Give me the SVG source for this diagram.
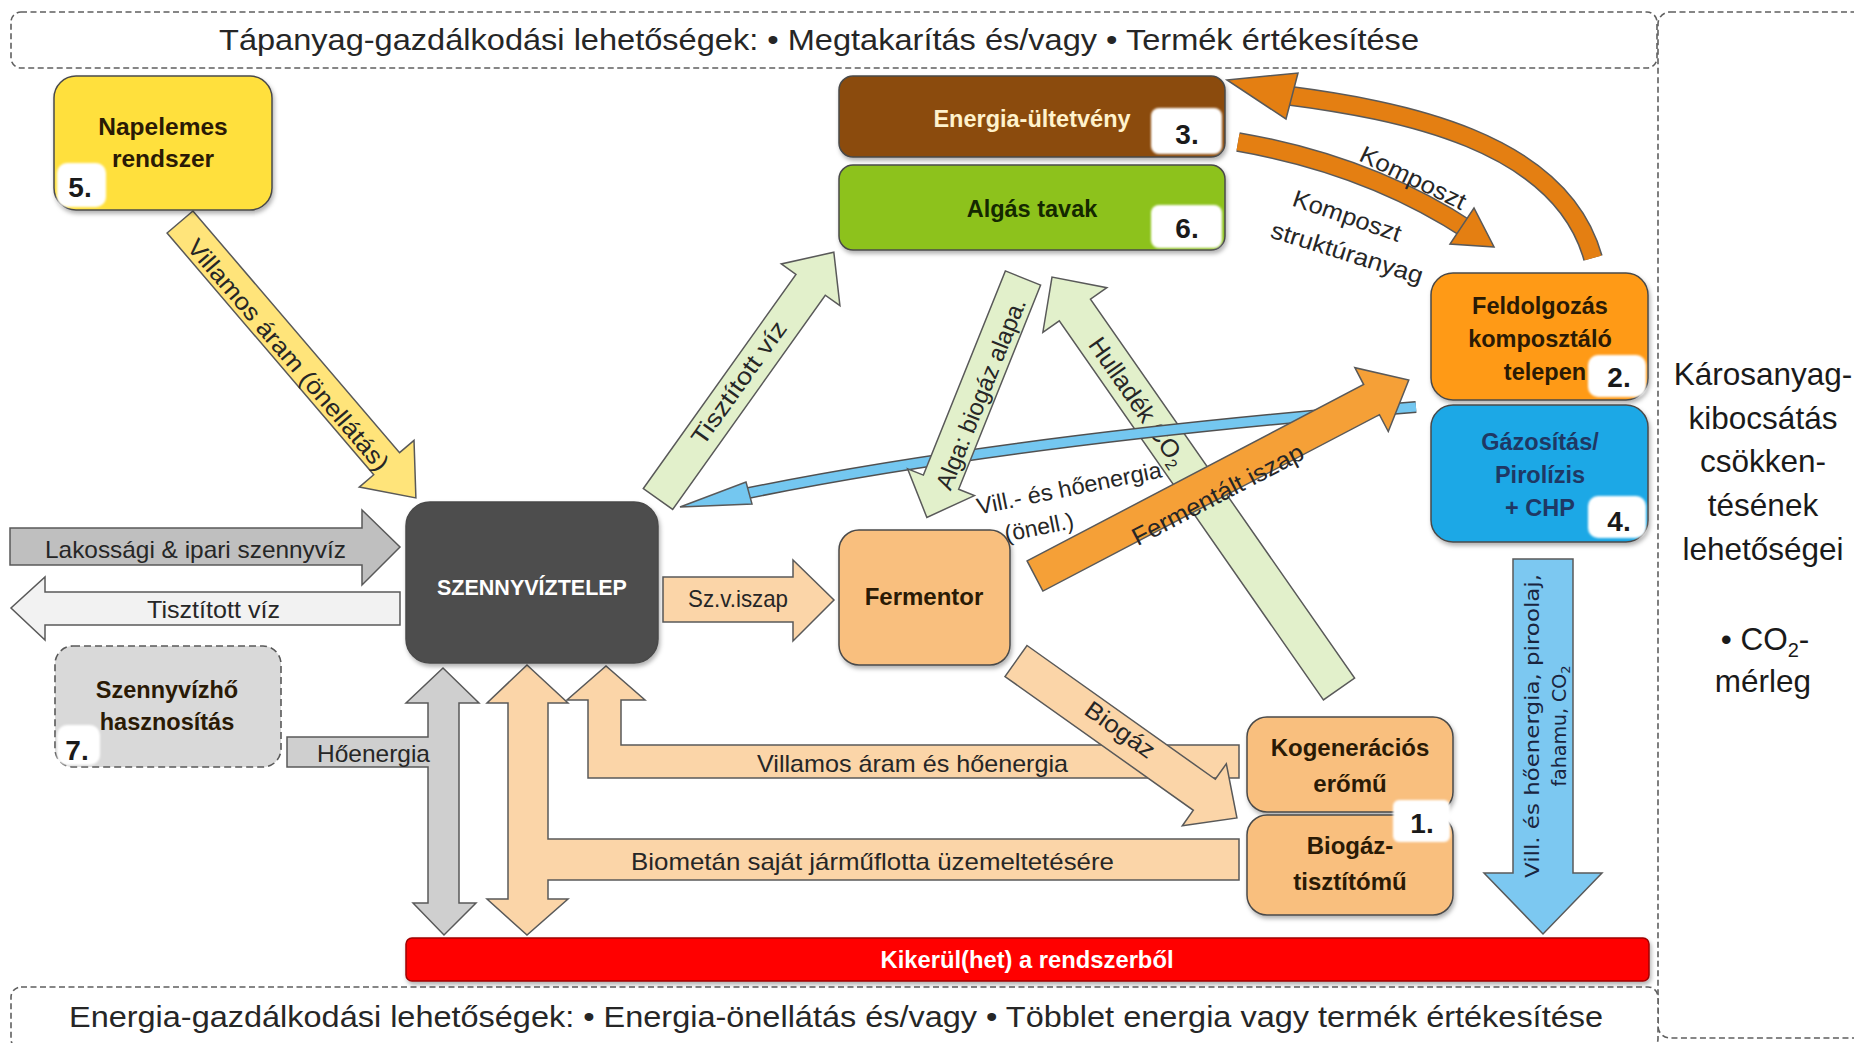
<svg xmlns="http://www.w3.org/2000/svg" width="1854" height="1043" viewBox="0 0 1854 1043">
<defs>
<style>
.t{font-family:"Liberation Sans",Arial,sans-serif;fill:#262626}
.b{font-weight:bold}
.lbl{font-size:24px}
.nl{font-family:"Liberation Sans",Arial,sans-serif;font-weight:bold;font-size:23.5px;fill:#2a1a05;text-anchor:middle}
.node{stroke:#4a4a4a;stroke-width:1.5}
.arr{stroke:#595959;stroke-width:1.5;stroke-linejoin:miter}
.dash{fill:#fff;stroke:#5f5f5f;stroke-width:1.6;stroke-dasharray:6 3.5}
.num{font-family:"Liberation Sans",Arial,sans-serif;font-weight:bold;font-size:28px;fill:#1a1a1a;text-anchor:middle}
.nb{fill:#fff;filter:url(#soft)}
.rp{font-family:"Liberation Sans",Arial,sans-serif;font-size:31.5px;fill:#1a1a1a;text-anchor:middle}
.vt{font-family:"DejaVu Sans",Verdana,sans-serif;font-size:19px;fill:#1a2540;text-anchor:middle}
</style>
<filter id="sh" x="-10%" y="-10%" width="130%" height="140%"><feDropShadow dx="1.5" dy="3" stdDeviation="2" flood-color="#000" flood-opacity="0.3"/></filter>
<filter id="soft" x="-20%" y="-20%" width="140%" height="140%"><feGaussianBlur stdDeviation="1.3"/></filter>
</defs>
<rect width="1854" height="1043" fill="#fff"/>

<g id="frames">
<rect class="dash" x="11" y="12" width="1646" height="56" rx="10"/>
<rect class="dash" x="1658" y="12" width="230" height="1026" rx="12"/>
<rect class="dash" x="11" y="987" width="1647" height="62" rx="10"/>
<text class="t" x="219" y="50" font-size="29" textLength="1200" lengthAdjust="spacingAndGlyphs">Tápanyag-gazdálkodási lehetőségek:  • Megtakarítás és/vagy • Termék értékesítése</text>
<text class="t" x="69" y="1027" font-size="29" textLength="1534" lengthAdjust="spacingAndGlyphs">Energia-gazdálkodási lehetőségek: • Energia-önellátás és/vagy • Többlet energia vagy termék értékesítése</text>
<text class="rp" x="1763" y="385">Károsanyag-</text>
<text class="rp" x="1763" y="429">kibocsátás</text>
<text class="rp" x="1763" y="472">csökken-</text>
<text class="rp" x="1763" y="516">tésének</text>
<text class="rp" x="1763" y="560">lehetőségei</text>
<text class="rp" x="1765" y="650">• CO<tspan font-size="20" dy="7">2</tspan><tspan dy="-7">-</tspan></text>
<text class="rp" x="1763" y="692">mérleg</text>
</g>

<g id="connectors">
<path class="arr" fill="#BFBFBF" d="M10,528 H362 V510 L400,547 L362,585 V565 H10 Z"/>
<text class="t lbl" x="45" y="558" textLength="301" lengthAdjust="spacingAndGlyphs">Lakossági &amp; ipari szennyvíz</text>
<path class="arr" fill="#F2F2F2" d="M400,592 H45 V577 L11,608 L45,640 V625 H400 Z"/>
<text class="t lbl" x="147" y="618" textLength="133" lengthAdjust="spacingAndGlyphs">Tisztított víz</text>

<path class="arr" fill="#FFE47A" transform="translate(180,222) rotate(49.47)" d="M0,-17 H318 V-36 L363,0 L318,36 V17 H0 Z"/>
<text class="t lbl" transform="translate(288,355) rotate(49.47)" y="8" text-anchor="middle" textLength="296" lengthAdjust="spacingAndGlyphs">Villamos áram (önellátás)</text>

<path class="arr" fill="#E2F0CB" transform="translate(1339,689) rotate(-124.87)" d="M0,-19 H462 V-39 L502,0 L462,39 V19 H0 Z"/>
<text class="t" font-size="25" transform="translate(1137,402) rotate(55.13)" y="8" text-anchor="middle">Hulladék CO<tspan font-size="16" dy="5">2</tspan></text>

<path d="M724,498 Q1000,440 1416,407" fill="none" stroke="#505050" stroke-width="12"/>
<path d="M724,498 Q1000,440 1416,407" fill="none" stroke="#74C7F0" stroke-width="9"/>
<path class="arr" fill="#74C7F0" d="M680,507 L752,504 L746,482 Z"/>
<text class="t" font-size="23" transform="translate(1069,488) rotate(-11.5)" y="8" text-anchor="middle" textLength="188" lengthAdjust="spacingAndGlyphs">Vill.- és hőenergia</text>
<text class="t" font-size="23" transform="translate(1039,527) rotate(-11.5)" y="8" text-anchor="middle" textLength="70" lengthAdjust="spacingAndGlyphs">(önell.)</text>

<path class="arr" fill="#E2F0CB" transform="translate(1023,278) rotate(111.88)" d="M0,-19 H220 V-36 L258,0 L220,36 V19 H0 Z"/>
<text class="t lbl" transform="translate(981,394) rotate(-68.1)" y="8" text-anchor="middle" textLength="204" lengthAdjust="spacingAndGlyphs">Alga: biogáz alapa.</text>

<path class="arr" fill="#E2F0CB" transform="translate(658,499) rotate(-54.53)" d="M0,-18 H263 V-36 L303,0 L263,36 V18 H0 Z"/>
<text class="t lbl" transform="translate(739,383) rotate(-54.53)" y="8" text-anchor="middle" textLength="146" lengthAdjust="spacingAndGlyphs">Tisztított víz</text>

<path class="arr" fill="#F5A037" transform="translate(1035,576) rotate(-27.66)" d="M0,-17 H380 V-36 L422,0 L380,36 V17 H0 Z"/>
<text class="t" font-size="25" fill="#3b2000" transform="translate(1218,495) rotate(-27.66)" y="8" text-anchor="middle" textLength="190" lengthAdjust="spacingAndGlyphs">Fermentált iszap</text>

<path class="arr" fill="#FBD5A8" d="M663,577 H793 V560 L834,600 L793,641 V622 H663 Z"/>
<text class="t lbl" x="688" y="607" textLength="100" lengthAdjust="spacingAndGlyphs">Sz.v.iszap</text>

<path class="arr" fill="#CFCFCF" d="M443,668 L479,703 H459 V903 H476 L444,935 L413,903 H428 V767 H287 V737 H428 V703 H406 Z"/>
<text class="t lbl" x="317" y="762" textLength="113" lengthAdjust="spacingAndGlyphs">Hőenergia</text>
<path class="arr" fill="#FBD5A8" d="M527,665 L568,703 H548 V839 H1239 V880 H548 V899 H568 L527,935 L487,899 H508 V703 H487 Z"/>
<text class="t lbl" x="631" y="870" textLength="483" lengthAdjust="spacingAndGlyphs">Biometán saját járműflotta üzemeltetésére</text>
<path class="arr" fill="#FBD5A8" d="M588,778 V700 H567 L606,666 L645,700 H621 V745 H1239 V778 Z"/>
<text class="t lbl" x="757" y="772" textLength="311" lengthAdjust="spacingAndGlyphs">Villamos áram és hőenergia</text>

<path class="arr" fill="#FBD5A8" transform="translate(1016,661) rotate(35.39)" d="M0,-19 H231 V-38 L271,0 L231,38 V19 H0 Z"/>
<text class="t lbl" transform="translate(1120,730) rotate(35.4)" y="8" text-anchor="middle" textLength="80" lengthAdjust="spacingAndGlyphs">Biogáz</text>

<path d="M1593,258 C1560,140 1400,110 1284,95" fill="none" stroke="#5a5a5a" stroke-width="20"/>
<path d="M1593,258 C1560,140 1400,110 1284,95" fill="none" stroke="#E47F12" stroke-width="17"/>
<path class="arr" fill="#E47F12" d="M1227,80 L1298,73 L1286,119 Z"/>
<path d="M1238,142 Q1370,165 1470,231" fill="none" stroke="#5a5a5a" stroke-width="20"/>
<path d="M1238,142 Q1370,165 1470,231" fill="none" stroke="#E47F12" stroke-width="17"/>
<path class="arr" fill="#E47F12" d="M1494,247 L1450,244 L1474,208 Z"/>
<text class="t lbl" transform="translate(1413,178) rotate(25.9)" y="8" text-anchor="middle" textLength="115" lengthAdjust="spacingAndGlyphs">Komposzt</text>
<text class="t lbl" transform="translate(1347,216) rotate(19)" y="8" text-anchor="middle" textLength="113" lengthAdjust="spacingAndGlyphs">Komposzt</text>
<text class="t lbl" transform="translate(1347,253) rotate(17.3)" y="8" text-anchor="middle" textLength="158" lengthAdjust="spacingAndGlyphs">struktúranyag</text>

<path class="arr" fill="#7CC8F1" d="M1513,559 H1573 V873 H1602 L1543,934 L1484,873 H1513 Z"/>
<text class="vt" transform="translate(1532,726) rotate(-90)" y="7" textLength="304" lengthAdjust="spacingAndGlyphs">Vill. és hőenergia, piroolaj,</text>
<text class="vt" transform="translate(1559,726) rotate(-90)" y="7">fahamu, CO<tspan font-size="13" dy="4">2</tspan></text>
</g>

<g id="napelemes">
<rect class="node" x="54" y="76" width="218" height="134" rx="22" fill="#FFE03C" filter="url(#sh)"/>
<rect class="nb" x="57" y="163" width="49" height="44" rx="10"/>
<text class="num" x="80" y="197">5.</text>
<text class="nl" x="163" y="135" style="font-size:24.5px">Napelemes</text>
<text class="nl" x="163" y="167" style="font-size:24.5px">rendszer</text>
</g>

<g id="energia-ultetveny">
<rect class="node" x="839" y="76" width="386" height="81" rx="14" fill="#8B4C08" filter="url(#sh)"/>
<rect class="nb" x="1151" y="108" width="71" height="46" rx="8"/>
<text class="num" x="1187" y="144">3.</text>
<text class="nl" x="1032" y="127" style="fill:#FFF2CC">Energia-ültetvény</text>
</g>

<g id="algas-tavak">
<rect class="node" x="839" y="165" width="386" height="85" rx="14" fill="#8DC21F" filter="url(#sh)"/>
<rect class="nb" x="1151" y="205" width="71" height="43" rx="8"/>
<text class="num" x="1187" y="238">6.</text>
<text class="nl" x="1032" y="217" style="fill:#142800">Algás tavak</text>
</g>

<g id="feldolgozas">
<rect class="node" x="1431" y="273" width="217" height="127" rx="22" fill="#FF9A12" filter="url(#sh)"/>
<rect class="nb" x="1588" y="355" width="58" height="42" rx="10"/>
<text class="num" x="1619" y="387">2.</text>
<text class="nl" x="1540" y="314">Feldolgozás</text>
<text class="nl" x="1540" y="347">komposztáló</text>
<text class="nl" x="1545" y="380">telepen</text>
</g>

<g id="gazositas">
<rect class="node" x="1431" y="405" width="217" height="137" rx="22" fill="#1BA8E6" filter="url(#sh)"/>
<rect class="nb" x="1588" y="496" width="58" height="42" rx="10"/>
<text class="num" x="1619" y="531">4.</text>
<text class="nl" x="1540" y="450" style="fill:#1F3864">Gázosítás/</text>
<text class="nl" x="1540" y="483" style="fill:#1F3864">Pirolízis</text>
<text class="nl" x="1540" y="516" style="fill:#1F3864">+ CHP</text>
</g>

<g id="szennyviztelep">
<rect class="node" x="406" y="502" width="252" height="161" rx="24" fill="#4D4D4D" stroke="#3a3a3a" filter="url(#sh)"/>
<text class="nl" x="532" y="595" style="fill:#fff;font-size:21.5px">SZENNYVÍZTELEP</text>
</g>

<g id="fermentor">
<rect class="node" x="839" y="530" width="171" height="135" rx="20" fill="#F9BF7E" filter="url(#sh)"/>
<text class="nl" x="924" y="605" style="font-size:24px">Fermentor</text>
</g>

<g id="kogeneracios">
<rect class="node" x="1247" y="717" width="206" height="95" rx="20" fill="#F9BF7E" filter="url(#sh)"/>
<text class="nl" x="1350" y="756" style="font-size:24px">Kogenerációs</text>
<text class="nl" x="1350" y="792" style="font-size:24px">erőmű</text>
</g>

<g id="biogaz-tisztitomu">
<rect class="node" x="1247" y="815" width="206" height="100" rx="20" fill="#F9BF7E" filter="url(#sh)"/>
<text class="nl" x="1350" y="854" style="font-size:24px">Biogáz-</text>
<text class="nl" x="1350" y="890" style="font-size:24px">tisztítómű</text>
<rect class="nb" x="1393" y="800" width="57" height="42" rx="6"/>
<text class="num" x="1422" y="833">1.</text>
</g>

<g id="szennyvizho">
<rect x="55" y="646" width="226" height="121" rx="18" fill="#D9D9D9" stroke="#595959" stroke-width="1.6" stroke-dasharray="7 4"/>
<rect class="nb" x="57" y="725" width="43" height="40" rx="10"/>
<text class="num" x="77" y="760">7.</text>
<text class="nl" x="167" y="698">Szennyvízhő</text>
<text class="nl" x="167" y="730">hasznosítás</text>
</g>

<g id="kikerul">
<rect x="406" y="938" width="1243" height="43" rx="6" fill="#FF0000" stroke="#A00000" stroke-width="1.5" filter="url(#sh)"/>
<text class="nl" x="1027" y="968" style="fill:#fff" textLength="293" lengthAdjust="spacingAndGlyphs">Kikerül(het) a rendszerből</text>
</g>
</svg>
